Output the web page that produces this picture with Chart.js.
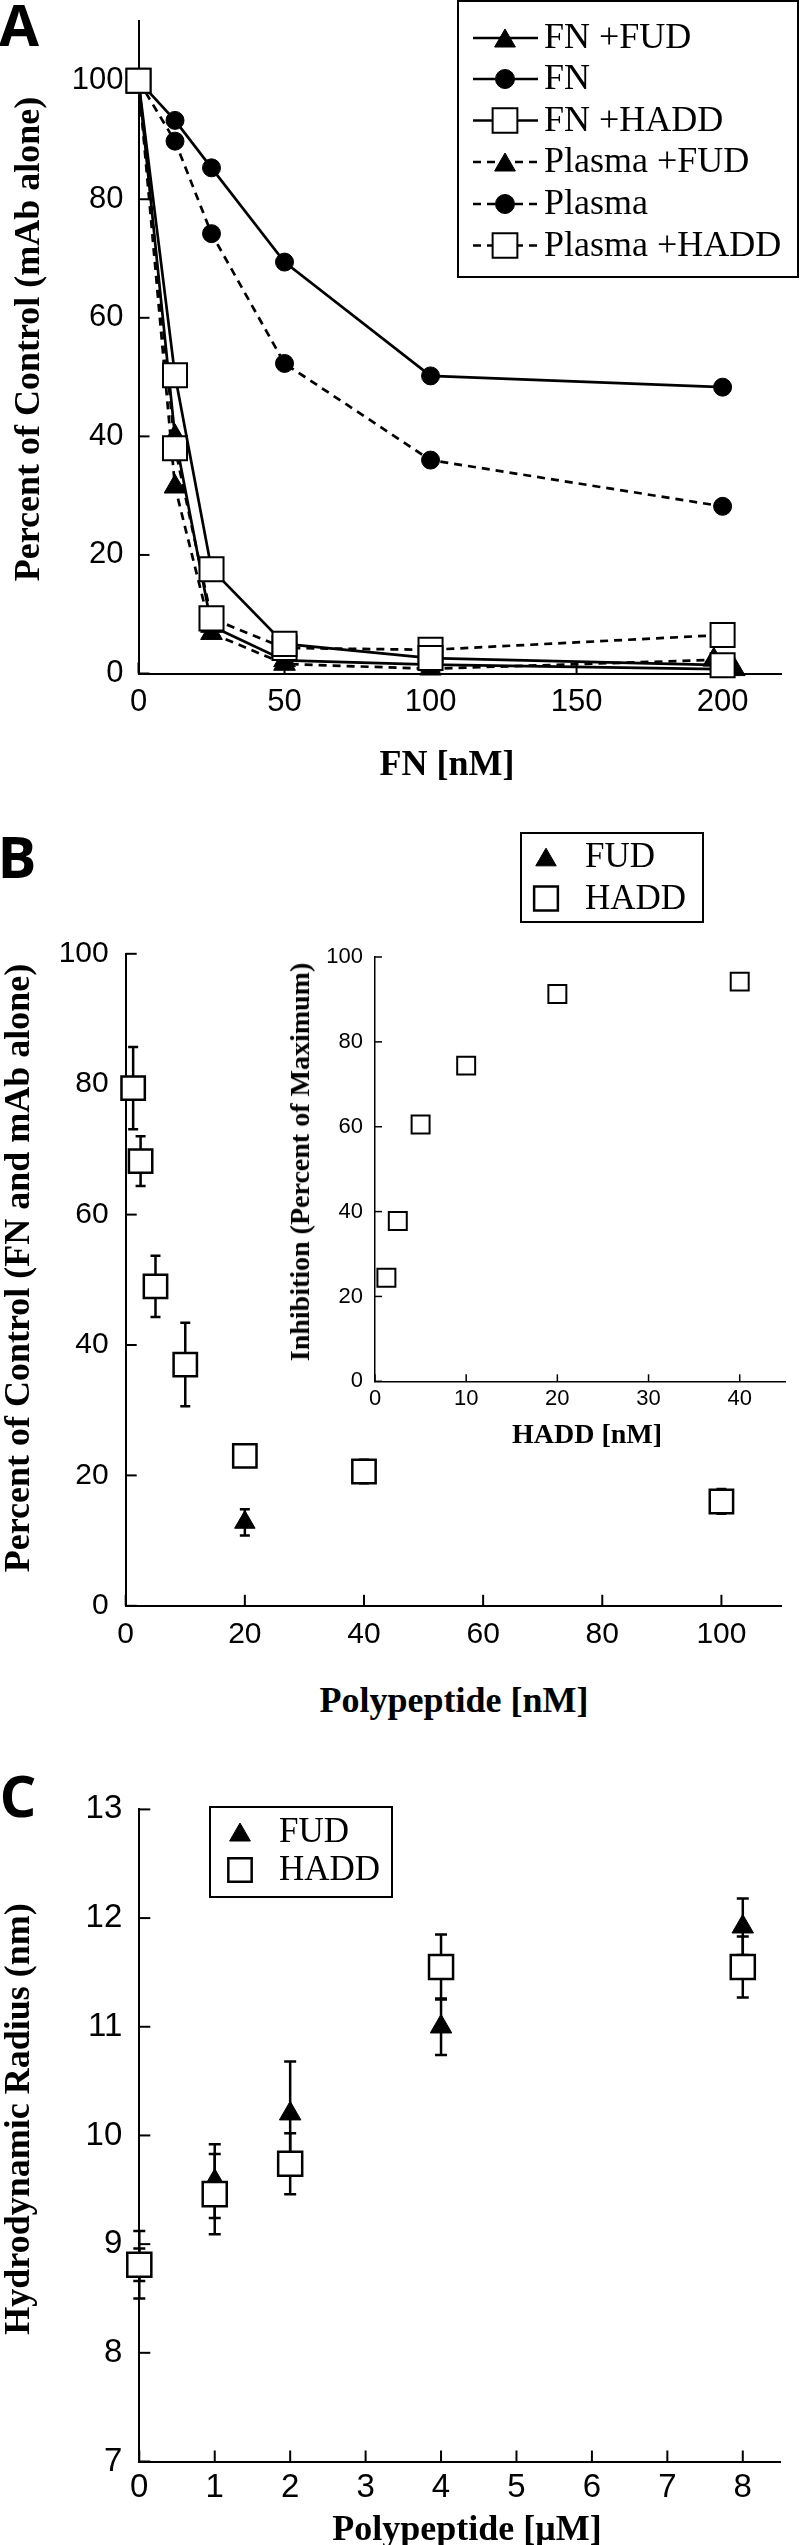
<!DOCTYPE html>
<html><head><meta charset="utf-8">
<script src="https://cdn.jsdelivr.net/npm/chart.js@4.4.0/dist/chart.umd.min.js"></script>
<style>
html,body{margin:0;padding:0;background:#fff;}
#page{position:relative;width:800px;height:2545px;overflow:hidden;background:#fff;}
.cv{position:absolute;}
.t{position:absolute;white-space:nowrap;line-height:1;color:#000;font-family:'Liberation Serif','Times New Roman',serif;font-weight:bold;transform:translate(-50%,-50%);}
.r{transform:translate(-50%,-50%) rotate(-90deg);}
.letter{position:absolute;font-family:'Open Sans','Liberation Sans',sans-serif;font-weight:bold;line-height:1;color:#000;transform:translate(-50%,-50%);}
</style></head><body><div id="page">
<canvas id="cA" class="cv" style="left:0;top:0" width="800" height="730"></canvas>
<canvas id="cB" class="cv" style="left:0;top:780px" width="800" height="880"></canvas>
<canvas id="cI" class="cv" style="left:290px;top:940px" width="510" height="520"></canvas>
<canvas id="cC" class="cv" style="left:0;top:1750px" width="800" height="795"></canvas>

<div class="letter" style="left:19px;top:24px;font-size:58px">A</div>
<div class="letter" style="left:17px;top:856px;font-size:58px">B</div>
<div class="letter" style="left:18px;top:1795px;font-size:58px">C</div>

<div class="t r" style="left:27px;top:339px;font-size:36px">Percent of Control (mAb alone)</div>
<div class="t" style="left:447px;top:763px;font-size:36px">FN [nM]</div>
<div class="t r" style="left:17px;top:1268px;font-size:36px">Percent of Control (FN and mAb alone)</div>
<div class="t" style="left:454px;top:1700px;font-size:36px">Polypeptide [nM]</div>
<div class="t r" style="left:300px;top:1162px;font-size:28px">Inhibition (Percent of Maximum)</div>
<div class="t" style="left:587px;top:1434px;font-size:28px">HADD [nM]</div>
<div class="t r" style="left:17px;top:2119px;font-size:36px">Hydrodynamic Radius (nm)</div>
<div class="t" style="left:467px;top:2528px;font-size:36px">Polypeptide [μM]</div>
</div>
<script>
// ---------- DATA ----------
// Panel A
const aSeriesNames = ['FN +FUD', 'FN', 'FN +HADD', 'Plasma +FUD', 'Plasma', 'Plasma +HADD'];
const fnX        = [0, 12.5, 25, 50, 100, 200];
const fnFudX     = [0, 12.5, 25, 50, 100, 204];
const plasmaFudX = [0, 12.5, 25, 50, 100, 197];
const fnFud      = [100, 40, 8, 2.2, 1.5, 0.7];
const fn         = [100, 93.3, 85.3, 69.4, 50.2, 48.3];
const fnHadd     = [100, 50.3, 17.6, 5.0, 2.6, 1.4];
const plasmaFud  = [100, 31.5, 6.8, 1.6, 0.8, 2.3];
const plasma     = [100, 89.8, 74.2, 52.3, 36.0, 28.2];
const plasmaHadd = [100, 38.0, 9.3, 4.3, 4.0, 6.5];
const aXTicks = [0, 50, 100, 150, 200];
const aYTicks = [0, 20, 40, 60, 80, 100];

// Panel B (main)
const bSeriesNames = ['FUD', 'HADD'];
const bFudX    = [20];
const bFud     = [12.8];
const bFudErr  = [2.0];
const bHaddX   = [1.25, 2.5, 5, 10, 20, 40, 100];
const bHadd    = [79.4, 68.2, 49.0, 37.0, 23.0, 20.6, 16.0];
const bHaddErr = [6.3, 3.8, 4.7, 6.4, 0.8, 1.8, 1.9];
const bXTicks = [0, 20, 40, 60, 80, 100];
const bYTicks = [0, 20, 40, 60, 80, 100];

// Panel B (inset)
const insetX = [1.25, 2.5, 5, 10, 20, 40];
const insetY = [24.4, 37.8, 60.5, 74.4, 91.3, 94.2];
const iXTicks = [0, 10, 20, 30, 40];
const iYTicks = [0, 20, 40, 60, 80, 100];

// Panel C
const cSeriesNames = ['FUD', 'HADD'];
const cX       = [0, 1, 2, 4, 8];
const cFud     = [8.81, 9.58, 10.2, 11.0, 11.92];
const cFudErr  = [0.31, 0.34, 0.48, 0.26, 0.26];
const cHadd    = [8.81, 9.46, 9.74, 11.55, 11.55];
const cHaddErr = [0.15, 0.37, 0.28, 0.30, 0.28];
const cXTicks = [0, 1, 2, 3, 4, 5, 6, 7, 8];
const cYTicks = [7, 8, 9, 10, 11, 12, 13];

// ---------- HELPERS ----------
const pts = (xs, ys) => xs.map((x, i) => ({x: x, y: ys[i]}));

function drawMarker(ctx, style, x, y, r, fill, bw) {
  ctx.save();
  ctx.setLineDash([]);
  ctx.beginPath();
  if (style === 'circle') {
    ctx.arc(x, y, r, 0, Math.PI * 2);
  } else if (style === 'triangle') {
    const a = 2 * Math.PI / 3;
    ctx.moveTo(x, y - r);
    ctx.lineTo(x + r * Math.sin(a), y - r * Math.cos(a));
    ctx.lineTo(x + r * Math.sin(2 * a), y - r * Math.cos(2 * a));
    ctx.closePath();
  } else {
    const s = r * Math.SQRT1_2;
    ctx.rect(x - s, y - s, 2 * s, 2 * s);
  }
  ctx.fillStyle = fill; ctx.fill();
  ctx.lineWidth = bw; ctx.strokeStyle = '#000'; ctx.stroke();
  ctx.restore();
}

function insideTicks(len, width) {
  return {
    id: 'insideTicks',
    beforeDatasetsDraw(chart) {
      const ctx = chart.ctx, a = chart.chartArea;
      ctx.save();
      ctx.strokeStyle = '#000'; ctx.lineWidth = width;
      Object.values(chart.scales).forEach(s => {
        s.ticks.forEach(t => {
          const p = s.getPixelForValue(t.value);
          ctx.beginPath();
          if (s.isHorizontal()) { ctx.moveTo(p, a.bottom); ctx.lineTo(p, a.bottom - len); }
          else { ctx.moveTo(a.left, p); ctx.lineTo(a.left + len, p); }
          ctx.stroke();
        });
      });
      ctx.restore();
    }
  };
}

function errorBars(cap, width) {
  return {
    id: 'errorBars',
    beforeDatasetsDraw(chart) {
      const ctx = chart.ctx, xs = chart.scales.x, ys = chart.scales.y;
      ctx.save();
      ctx.strokeStyle = '#000'; ctx.lineWidth = width;
      chart.data.datasets.forEach(ds => {
        if (!ds.errors) return;
        ds.data.forEach((p, i) => {
          const e = ds.errors[i];
          if (!e) return;
          const px = xs.getPixelForValue(p.x);
          const y1 = ys.getPixelForValue(p.y + e), y2 = ys.getPixelForValue(p.y - e);
          ctx.beginPath();
          ctx.moveTo(px, y1); ctx.lineTo(px, y2);
          ctx.moveTo(px - cap, y1); ctx.lineTo(px + cap, y1);
          ctx.moveTo(px - cap, y2); ctx.lineTo(px + cap, y2);
          ctx.stroke();
        });
      });
      ctx.restore();
    }
  };
}

function boxLegend(cfg) {
  return {
    id: 'boxLegend',
    afterDraw(chart) {
      const ctx = chart.ctx;
      ctx.save();
      ctx.lineWidth = 2; ctx.strokeStyle = '#000';
      const b = cfg.box;
      ctx.strokeRect(b[0], b[1], b[2] - b[0], b[3] - b[1]);
      cfg.items.forEach(it => {
        if (cfg.line) {
          ctx.beginPath();
          ctx.setLineDash(it.dash || []);
          ctx.lineWidth = 2.7;
          ctx.moveTo(cfg.line[0], it.y); ctx.lineTo(cfg.line[1], it.y);
          ctx.stroke();
          ctx.setLineDash([]);
        }
        const dy = it.style === 'triangle' ? it.r / 4 : 0;
        drawMarker(ctx, it.style, cfg.markerX, it.y + dy, it.r, it.fill, it.bw);
        ctx.fillStyle = '#000';
        ctx.font = cfg.font; ctx.textBaseline = 'middle'; ctx.textAlign = 'left';
        ctx.fillText(it.label, cfg.textX, it.y + 1);
      });
      ctx.restore();
    }
  };
}

function axis(min, max, tickVals, opt) {
  return {
    type: 'linear', min: min, max: max,
    afterBuildTicks: s => { s.ticks = tickVals.map(v => ({value: v})); },
    afterFit: s => {
      if (opt.width !== undefined) s.width = opt.width;
      if (opt.height !== undefined) s.height = opt.height;
      s.paddingTop = 0; s.paddingBottom = 0; s.paddingLeft = 0; s.paddingRight = 0;
    },
    grid: {display: false, drawTicks: false},
    border: {display: true, color: '#000', width: opt.bw || 2},
    ticks: {
      color: '#000', autoSkip: false, maxRotation: 0, minRotation: 0,
      padding: opt.pad,
      font: {family: "'Liberation Sans', Arial, sans-serif", size: opt.fs}
    }
  };
}

function baseOptions(pad, scales) {
  return {
    responsive: false, maintainAspectRatio: false, animation: false, devicePixelRatio: 1,
    layout: {padding: pad},
    plugins: {legend: {display: false}, tooltip: {enabled: false}},
    scales: scales
  };
}

function ds(label, data, style, opts) {
  return Object.assign({
    label: label, data: data, showLine: false,
    borderColor: '#000', borderWidth: 2.7,
    pointStyle: style, pointBorderColor: '#000',
    pointBackgroundColor: style === 'rect' ? '#fff' : '#000',
    pointBorderWidth: 2, pointRadius: 10, pointHoverRadius: 10,
    clip: false, tension: 0
  }, opts);
}

// ---------- PANEL A ----------
const dashA = [8, 6];
new Chart(document.getElementById('cA'), {
  type: 'scatter',
  data: {datasets: [
    ds(aSeriesNames[2], pts(fnX, fnHadd), 'rect', {showLine: true, pointRadius: 17, order: 0}),
    ds(aSeriesNames[5], pts(fnX, plasmaHadd), 'rect', {showLine: true, borderDash: dashA, pointRadius: 17, order: 1}),
    ds(aSeriesNames[0], pts(fnFudX, fnFud), 'triangle', {showLine: true, pointRadius: 12.5, pointBorderWidth: 1, order: 2}),
    ds(aSeriesNames[3], pts(plasmaFudX, plasmaFud), 'triangle', {showLine: true, borderDash: dashA, pointRadius: 12.5, pointBorderWidth: 1, order: 3}),
    ds(aSeriesNames[1], pts(fnX, fn), 'circle', {showLine: true, pointRadius: 9, pointBorderWidth: 1, order: 4}),
    ds(aSeriesNames[4], pts(fnX, plasma), 'circle', {showLine: true, borderDash: dashA, pointRadius: 9, pointBorderWidth: 1, order: 5})
  ]},
  options: baseOptions({top: 21.4, right: 5.4, left: 0, bottom: 0}, {
    x: axis(0, 220, aXTicks, {height: 56.5, pad: 10, fs: 31}),
    y: axis(0, 110, aYTicks, {width: 138.5, pad: 15, fs: 31})
  }),
  plugins: [insideTicks(11, 2), boxLegend({
    box: [458, 1, 798, 277], line: [473, 538], markerX: 505, textX: 544,
    font: "36px 'Liberation Serif', 'Times New Roman', serif",
    items: [
      {label: aSeriesNames[0], style: 'triangle', r: 12, fill: '#000', bw: 1, y: 38},
      {label: aSeriesNames[1], style: 'circle', r: 9.5, fill: '#000', bw: 1, y: 79},
      {label: aSeriesNames[2], style: 'rect', r: 17.5, fill: '#fff', bw: 2, y: 120.5},
      {label: aSeriesNames[3], style: 'triangle', r: 12, fill: '#000', bw: 1, y: 162, dash: dashA},
      {label: aSeriesNames[4], style: 'circle', r: 9.5, fill: '#000', bw: 1, y: 204, dash: dashA},
      {label: aSeriesNames[5], style: 'rect', r: 17.5, fill: '#fff', bw: 2, y: 245.5, dash: dashA}
    ]
  })]
});

// ---------- PANEL B main ----------
const bHaddDs = ds(bSeriesNames[1], pts(bHaddX, bHadd), 'rect', {pointRadius: 16.5, pointBorderWidth: 2.5, order: 0});
bHaddDs.errors = bHaddErr;
const bFudDs = ds(bSeriesNames[0], pts(bFudX, bFud), 'triangle', {pointRadius: 11.8, pointBorderWidth: 1, order: 1});
bFudDs.errors = bFudErr;
new Chart(document.getElementById('cB'), {
  type: 'scatter',
  data: {datasets: [bHaddDs, bFudDs]},
  options: baseOptions({top: 173.8, right: 17.7, left: 0, bottom: 0}, {
    x: axis(0, 110, bXTicks, {height: 54.2, pad: 11, fs: 30}),
    y: axis(0, 100, bYTicks, {width: 125.7, pad: 17, fs: 30})
  }),
  plugins: [insideTicks(11, 2), errorBars(5, 2.5), boxLegend({
    box: [521, 833 - 780, 703, 922 - 780], markerX: 546, textX: 585,
    font: "35px 'Liberation Serif', 'Times New Roman', serif",
    items: [
      {label: bSeriesNames[0], style: 'triangle', r: 11.8, fill: '#000', bw: 1, y: 857 - 780},
      {label: bSeriesNames[1], style: 'rect', r: 16.8, fill: '#fff', bw: 2.5, y: 898.5 - 780}
    ]
  })]
});

// ---------- PANEL B inset ----------
new Chart(document.getElementById('cI'), {
  type: 'scatter',
  data: {datasets: [
    ds(bSeriesNames[1], pts(insetX, insetY), 'rect', {pointRadius: 12.7, pointBorderWidth: 2})
  ]},
  options: baseOptions({top: 17, right: 0.5, left: 0, bottom: 0}, {
    x: axis(0, 45, iXTicks, {height: 78.7, pad: 4.5, fs: 22, bw: 1.5}),
    y: axis(0, 100, iYTicks, {width: 85, pad: 12, fs: 22, bw: 1.5})
  }),
  plugins: [insideTicks(7, 1.5)]
});

// ---------- PANEL C ----------
const cHaddDs = ds(cSeriesNames[1], pts(cX, cHadd), 'rect', {pointRadius: 17, pointBorderWidth: 2.5, order: 0});
cHaddDs.errors = cHaddErr;
const cFudDs = ds(cSeriesNames[0], pts(cX, cFud), 'triangle', {pointRadius: 12.4, pointBorderWidth: 1, order: 1});
cFudDs.errors = cFudErr;
new Chart(document.getElementById('cC'), {
  type: 'scatter',
  data: {datasets: [cHaddDs, cFudDs]},
  options: baseOptions({top: 59.4, right: 5, left: 0, bottom: 0}, {
    x: axis(0, 8.5, cXTicks, {height: 83.5, pad: 6.5, fs: 33}),
    y: axis(7, 13, cYTicks, {width: 139.3, pad: 17, fs: 33})
  }),
  plugins: [insideTicks(11, 2), errorBars(6, 2.5), boxLegend({
    box: [210, 1807 - 1750, 392, 1897 - 1750], markerX: 240, textX: 279,
    font: "35px 'Liberation Serif', 'Times New Roman', serif",
    items: [
      {label: cSeriesNames[0], style: 'triangle', r: 12, fill: '#000', bw: 1, y: 1832 - 1750},
      {label: cSeriesNames[1], style: 'rect', r: 16.5, fill: '#fff', bw: 2.5, y: 1870 - 1750}
    ]
  })]
});
</script>
</body></html>
